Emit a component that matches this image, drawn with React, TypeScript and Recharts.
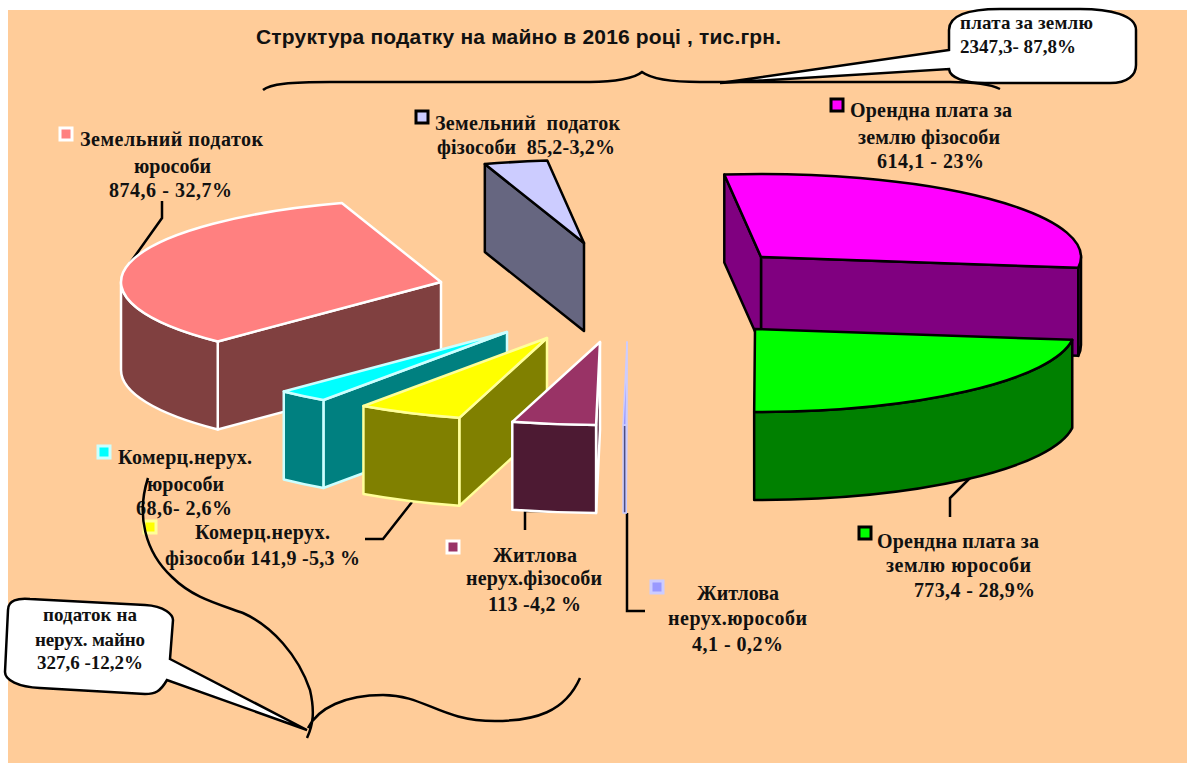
import React from 'react';
import { PieChart, Pie } from 'recharts';

// the wedges are drawn counter-clockwise, so this order is also the paint order (back to front)
const sliceNames = ['orendaFiz', 'zemFiz', 'zemJur', 'komJur', 'komFiz', 'zhytFiz', 'zhytJur', 'orendaJur'];
// in the picture the two rent wedges are sized the other way round from their typed captions
const sliceValues = [773.4, 85.2, 874.6, 68.6, 141.9, 113, 4.1, 614.1];

const data = sliceNames.map((name, i) => ({ name, value: sliceValues[i] }));

const CX = 593;
const CY = 330;
const RX = 320;
const RY = 83;
const DEPTH = 88;

const look: Record<string, { top: string; wall: string; line: string; width: number; dx: number; dy: number }> = {
  orendaFiz: { top: '#FF00FF', wall: '#800080', line: '#000000', width: 2.5, dx: 168, dy: -73 },
  zemFiz: { top: '#CCCCFF', wall: '#666680', line: '#000000', width: 2.5, dx: -9, dy: -87 },
  zemJur: { top: '#FF8080', wall: '#804040', line: '#FFFFFF', width: 2.5, dx: -152, dy: -48 },
  komJur: { top: '#00FFFF', wall: '#008080', line: '#CCFFFF', width: 2.5, dx: -86, dy: 2 },
  komFiz: { top: '#FFFF00', wall: '#808000', line: '#FFFF99', width: 2.5, dx: -46, dy: 8 },
  zhytFiz: { top: '#993366', wall: '#4D1A33', line: '#FFFFFF', width: 2.5, dx: 7, dy: 12 },
  zhytJur: { top: '#9999FF', wall: '#4D4D80', line: '#CCCCFF', width: 1.5, dx: 34, dy: 12 },
  orendaJur: { top: '#00FF00', wall: '#008000', line: '#000000', width: 2.5, dx: 162, dy: -1 },
};

const Wedge = (props: any) => {
  const s = look[props.name];
  if (!s) return null;
  const ax = props.cx + s.dx;
  const ay = props.cy + s.dy;
  const a = props.startAngle;
  const b = props.endAngle;
  const pt = (deg: number) => {
    const r = (deg * Math.PI) / 180;
    return [ax + RX * Math.cos(r), ay - RY * Math.sin(r)];
  };
  const arc = (deg: number, dy: number) => {
    const [x, y] = pt(deg);
    return `${x} ${y + dy}`;
  };
  const cosA = Math.cos((a * Math.PI) / 180);
  const cosB = Math.cos((b * Math.PI) / 180);
  const side = (deg: number) =>
    `M${ax} ${ay}L${arc(deg, 0)}L${arc(deg, DEPTH)}L${ax} ${ay + DEPTH}Z`;

  // outer wall: only the part on the viewer's side of the ellipse
  const a0 = ((a % 360) + 360) % 360;
  const lo = Math.max(a0, 180);
  const hi = Math.min(a0 + (b - a), 360);
  const common = { stroke: s.line, strokeWidth: s.width, strokeLinejoin: 'round' as const };
  return (
    <g>
      {cosA > 0 && <path d={side(a)} fill={s.wall} {...common} />}
      {cosB < 0 && <path d={side(b)} fill={s.wall} {...common} />}
      {hi > lo && (
        <path
          d={`M${arc(lo, 0)}A${RX} ${RY} 0 0 0 ${arc(hi, 0)}L${arc(hi, DEPTH)}A${RX} ${RY} 0 0 1 ${arc(lo, DEPTH)}Z`}
          fill={s.wall}
          {...common}
        />
      )}
      <path
        d={`M${ax} ${ay}L${arc(a, 0)}A${RX} ${RY} 0 ${b - a > 180 ? 1 : 0} 0 ${arc(b, 0)}Z`}
        fill={s.top}
        {...common}
      />
    </g>
  );
};

const titleText = 'Структура податку на майно в 2016 році , тис.грн.';

// text, left x, baseline y, width
const captionLines: [string, number, number, number][] = [
  ['Земельний податок', 80, 146, 183],
  ['юрособи', 134, 173, 77],
  ['874,6 - 32,7%', 109, 197, 123],
  ['Земельний  податок', 435, 130, 185],
  ['фізособи  85,2-3,2%', 437, 154, 178],
  ['Орендна плата за', 850, 117, 162],
  ['землю фізособи', 858, 144, 142],
  ['614,1 - 23%', 877, 168, 107],
  ['Орендна плата за', 877, 548, 162],
  ['землю юрособи', 886, 572, 145],
  ['773,4 - 28,9%', 914, 597, 121],
  ['Житлова', 493, 562, 84],
  ['нерух.фізособи', 466, 585, 136],
  ['113 -4,2 %', 488, 611, 93],
  ['Житлова', 697, 600, 82],
  ['нерух.юрособи', 668, 625, 139],
  ['4,1 - 0,2%', 692, 651, 91],
  ['Комерц.нерух.', 118, 464, 134],
  ['юрособи', 147, 491, 77],
  ['68,6- 2,6%', 136, 515, 96],
  ['Комерц.нерух.', 195, 539, 135],
  ['фізособи 141,9 -5,3 %', 165, 565, 195],
];

const bubbleLines: [string, number, number, number][] = [
  ['плата за землю', 960, 29, 133],
  ['2347,3- 87,8%', 960, 53, 116],
  ['податок на', 43, 621, 94],
  ['нерух. майно', 35, 646, 110],
  ['327,6 -12,2%', 37, 669, 106],
];

// x, y, fill, border
const keys: [number, number, string, string][] = [
  [60, 128, '#FF8080', '#FFFFFF'],
  [416, 111, '#CCCCFF', '#000000'],
  [831, 99, '#FF00FF', '#000000'],
  [859, 527, '#00FF00', '#000000'],
  [447, 541, '#993366', '#FFFFFF'],
  [651, 581, '#9999FF', '#CCCCFF'],
  [98, 446, '#00FFFF', '#CCFFFF'],
  [144, 521, '#FFFF00', '#FFFF99'],
];

const leaders = [
  'M162 201V218L130 263',
  'M365 539H383L412 502',
  'M525 530V511H555',
  'M627 513V611H645',
  'M970 478L950 498V517',
];

const topBrace =
  'M263 90C270 84 290 82 330 82L590 82C615 82 635 78 642 72C650 78 670 82 700 82L950 82C975 82 990 84 1000 89';
const bottomBrace =
  'M148 478C136 515 145 552 172 577C192 597 215 603 243 613C272 626 298 655 310 690C315 712 313 725 307 738M308 728C318 708 345 695 383 695C425 695 440 721 495 721C535 721 565 712 580 678';
const topBubble =
  'M949 50L720 83L949 69C950 78 965 83 985 83H1110C1128 83 1136 75 1136 65V30C1136 15 1110 9 1080 9H1000C970 9 949 15 949 30Z';
const bottomBubble =
  'M170 659L307 730L167 680C160 692 155 694 145 694L40 688C18 687 5 680 5 672L8 610C8 600 18 598 30 599L145 605C165 606 173 615 173 620Z';

const serif = '"Liberation Serif", serif';

const Line = ({ t, size }: { t: [string, number, number, number]; size: number }) => (
  <text
    x={t[1]}
    y={t[2]}
    textLength={t[3]}
    lengthAdjust="spacing"
    fontFamily={serif}
    fontWeight="bold"
    fontSize={size}
    fill="#111111"
    xmlSpace="preserve"
  >
    {t[0]}
  </text>
);

export default function App() {
  return (
    <div style={{ position: 'absolute', left: 0, top: 0, width: 1187, height: 763, background: '#FFFFFF', overflow: 'hidden' }}>
      <div style={{ position: 'absolute', left: 8, top: 10, width: 1179, height: 753, background: '#FFCC99' }} />
      <div style={{ position: 'absolute', left: 0, top: 0 }}>
        <PieChart width={1187} height={763} margin={{ top: 0, right: 0, bottom: 0, left: 0 }}>
          <Pie
            data={data}
            dataKey="value"
            nameKey="name"
            cx={CX}
            cy={CY}
            innerRadius={0}
            outerRadius={RX}
            startAngle={-7.5}
            endAngle={352.5}
            shape={Wedge}
            label={false}
            labelLine={false}
            stroke="none"
            isAnimationActive={false}
          />
          <text x={256} y={44} textLength={525} lengthAdjust="spacing" fontFamily='"Liberation Sans", sans-serif' fontWeight="bold" fontSize={21} fill="#111111">
            {titleText}
          </text>
          {leaders.map((d) => (
            <path key={d} d={d} fill="none" stroke="#000000" strokeWidth={2.5} />
          ))}
          <path d={topBrace} fill="none" stroke="#000000" strokeWidth={2.5} />
          {keys.map(([x, y, fill, border]) => (
            <rect key={x} x={x} y={y} width={12} height={12} fill={fill} stroke={border} strokeWidth={3} />
          ))}
          {captionLines.map((t, i) => (
            <Line key={i} t={t} size={20} />
          ))}
          <path d={bottomBrace} fill="none" stroke="#000000" strokeWidth={2.5} />
          <path d={topBubble} fill="#FFFFFF" stroke="#000000" strokeWidth={2.5} />
          <path d={bottomBubble} fill="#FFFFFF" stroke="#000000" strokeWidth={2.5} />
          {bubbleLines.map((t, i) => (
            <Line key={i} t={t} size={19} />
          ))}
        </PieChart>
      </div>
    </div>
  );
}
